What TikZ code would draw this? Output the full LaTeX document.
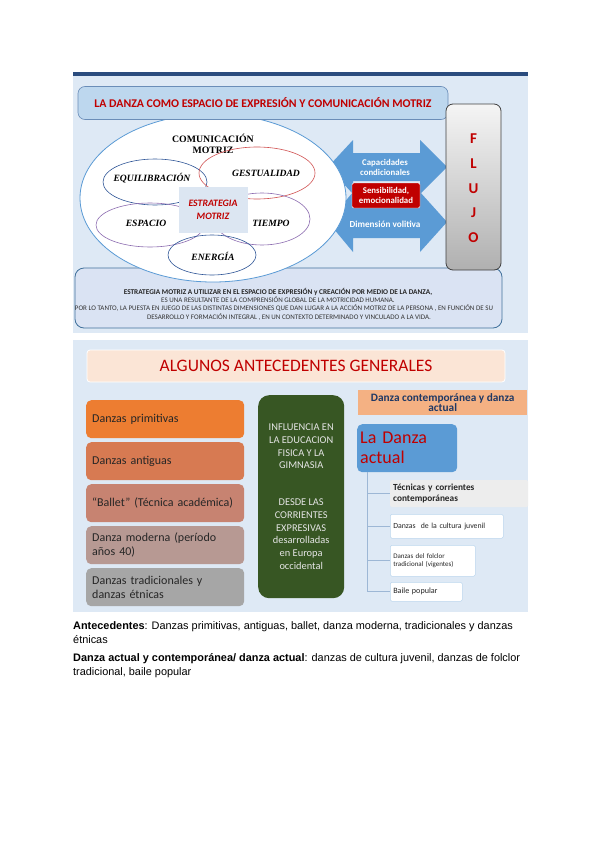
\documentclass[tikz,border=0pt]{standalone}
\usepackage{fontspec}
\setmainfont{Carlito}
\newfontfamily\tnr{Liberation Serif}
\newfontfamily\arialf{Liberation Sans}
\definecolor{panelbg}{HTML}{DEE9F5}
\definecolor{rulec}{HTML}{2B4C7E}
\definecolor{titlefill}{HTML}{BDD7EE}
\definecolor{titledraw}{HTML}{6A8DB8}
\definecolor{midblue}{HTML}{5B9BD5}
\definecolor{darkred}{HTML}{C00000}
\definecolor{dkblue}{HTML}{2F5597}
\definecolor{redell}{HTML}{D05050}
\definecolor{purp}{HTML}{8C6CB0}
\definecolor{sqfill}{HTML}{DCE6F2}
\definecolor{boxfill}{HTML}{DAE3F3}
\definecolor{boxdraw}{HTML}{41719C}
\definecolor{peach}{HTML}{FBE5D6}
\definecolor{orangeb}{HTML}{F4B183}
\definecolor{navy}{HTML}{1F3864}
\definecolor{ca}{HTML}{ED7D31}
\definecolor{cb}{HTML}{D77A52}
\definecolor{cc}{HTML}{C78371}
\definecolor{cd}{HTML}{B79993}
\definecolor{ce}{HTML}{A6A6A6}
\definecolor{greenb}{HTML}{375623}
\definecolor{txtd}{HTML}{262626}
\definecolor{treec}{HTML}{9DB7D5}
\definecolor{childdraw}{HTML}{BDD7EE}
\tikzset{
  ilbl/.style={font=\tnr\bfseries\itshape\fontsize{9.6}{10}\selectfont, inner sep=0pt},
  leftbox/.style={rounded corners=5pt, text width=146pt, inner xsep=6pt, minimum height=38pt, align=left, text=txtd, font=\fontsize{12}{14}\selectfont, anchor=north west},
  child/.style={rounded corners=1.5pt, anchor=north west, inner xsep=3pt, align=left, text=txtd},
  arrowtxt/.style={text=white, font=\bfseries\fontsize{8.8}{10}\selectfont, align=center, inner sep=0pt},
  flujo/.style={text=darkred, font=\bfseries\fontsize{15}{16}\selectfont, inner sep=0pt},
  smalltxt/.style={font=\fontsize{7}{7.5}\selectfont, text=black!80, inner sep=0pt},
  bottomtxt/.style={font=\arialf\fontsize{10.9}{12}\selectfont, anchor=base west, inner sep=0pt}
}
\begin{document}
\begin{tikzpicture}[x=1pt,y=-1pt]
\useasboundingbox (0,0) rectangle (600,848);
\fill[white] (0,0) rectangle (600,848);
% ===== top panel =====
\fill[panelbg] (73,72) rectangle (528,333);
\fill[rulec] (73,72) rectangle (528,76);
% bottom text box
\draw[boxdraw, fill=boxfill, line width=0.8pt, rounded corners=9pt] (75,268) rectangle (502,328);
% double arrows
\fill[midblue] (328,167) -- (353,140) -- (353,153) -- (420,153) -- (420,140) -- (447,167) -- (420,194) -- (420,181) -- (353,181) -- (353,194) -- cycle;
\fill[midblue] (328,222) -- (353,192) -- (353,206) -- (420,206) -- (420,192) -- (447,222) -- (420,252) -- (420,238) -- (353,238) -- (353,252) -- cycle;
% big ellipse
\draw[midblue, fill=white, line width=0.8pt] (213,198) ellipse [x radius=133pt, y radius=84pt];
% title box
\node[draw=titledraw, fill=titlefill, rounded corners=7pt, minimum width=370pt, minimum height=33pt, line width=0.6pt, text=darkred, font=\bfseries\fontsize{11.8}{13}\selectfont] (title) at (263,103) {LA DANZA COMO ESPACIO DE EXPRESIÓN Y COMUNICACIÓN MOTRIZ};
\node[font=\tnr\bfseries\fontsize{9.8}{11}\selectfont, align=center, inner sep=0pt] (com) at (213,144) {COMUNICACIÓN\\MOTRIZ};
% inner ellipses
\draw[dkblue, line width=0.6pt] (155,182) ellipse [x radius=52pt, y radius=23pt];
\draw[redell, line width=0.6pt] (257,173) ellipse [x radius=58pt, y radius=26pt];
\draw[purp, line width=0.6pt] (150,225) ellipse [x radius=54pt, y radius=22pt];
\draw[purp, line width=0.6pt] (262,219) ellipse [x radius=48pt, y radius=26pt];
\draw[dkblue, line width=0.6pt] (212,255) ellipse [x radius=44pt, y radius=20pt];
% centre square
\node[fill=sqfill, minimum width=69pt, minimum height=46pt, text=darkred, font=\bfseries\itshape\fontsize{9.8}{12.5}\selectfont, align=center] (estr) at (213,210) {ESTRATEGIA\\MOTRIZ};
\node[ilbl] (equi) at (152,178) {EQUILIBRACIÓN};
\node[ilbl] (gest) at (266,173) {GESTUALIDAD};
\node[ilbl] (esp) at (146,223) {ESPACIO};
\node[ilbl] (tiem) at (271,223) {TIEMPO};
\node[ilbl] (ener) at (213,256) {ENERGÍA};
% arrow labels
\node[arrowtxt] (cap) at (385,167) {Capacidades\\condicionales};
\node[fill=darkred, draw=white, line width=0.4pt, rounded corners=1.5pt, minimum width=68pt, minimum height=25pt, text=white, font=\bfseries\fontsize{8.8}{10}\selectfont, align=center, inner sep=0pt] (sens) at (386,195.5) {Sensibilidad,\\emocionalidad};
\node[arrowtxt, font=\bfseries\fontsize{9.2}{10}\selectfont] (dim) at (385,224) {Dimensión volitiva};
% FLUJO box
\node[draw=black!75, line width=0.8pt, rounded corners=7pt, top color=gray!8, bottom color=gray!62, minimum width=55pt, minimum height=166pt] (flujobox) at (473.5,187) {};
\node[flujo] (fF) at (473.5,139) {F};
\node[flujo] (fL) at (473.5,164) {L};
\node[flujo] (fU) at (473.5,189) {U};
\node[flujo] (fJ) at (473.5,213) {J};
\node[flujo] (fO) at (473.5,238) {O};
% bottom text
\node[font=\bfseries\fontsize{7.3}{7.5}\selectfont, text=black!85, inner sep=0pt] (l1) at (278,292) {ESTRATEGIA MOTRIZ A UTILIZAR EN EL ESPACIO DE EXPRESIÓN y CREACIÓN POR MEDIO DE LA DANZA,};
\node[smalltxt] (l2) at (278,300) {ES UNA RESULTANTE DE LA COMPRENSIÓN GLOBAL DE LA MOTRICIDAD HUMANA.};
\node[smalltxt] (l3) at (284,308.5) {POR LO TANTO, LA PUESTA EN JUEGO DE LAS DISTINTAS DIMENSIONES QUE DAN LUGAR A LA ACCIÓN MOTRIZ DE LA PERSONA , EN FUNCIÓN DE SU};
\node[smalltxt] (l4) at (289,317) {DESARROLLO Y FORMACIÓN INTEGRAL ,  EN UN CONTEXTO DETERMINADO Y VINCULADO A LA VIDA.};
% ===== bottom panel =====
\fill[panelbg] (73,340) rectangle (528,612);
\node[fill=peach, draw=white, line width=0.8pt, rounded corners=3pt, minimum width=418pt, minimum height=32pt, text=darkred, font=\fontsize{17.5}{19}\selectfont] (alg) at (296,366) {ALGUNOS ANTECEDENTES GENERALES};
\node[leftbox, fill=ca] (b1) at (86,400) {Danzas primitivas};
\node[leftbox, fill=cb] (b2) at (86,442) {Danzas antiguas};
\node[leftbox, fill=cc] (b3) at (86,484) {“Ballet” (Técnica académica)};
\node[leftbox, fill=cd] (b4) at (86,526) {Danza moderna (período\\años 40)};
\node[leftbox, fill=ce] (b5) at (86,568) {Danzas tradicionales y\\danzas étnicas};
\node[fill=greenb, rounded corners=11pt, minimum width=86pt, minimum height=203pt, anchor=north west, text=white!90!black, align=center, font=\fontsize{10.4}{12.7}\selectfont, inner sep=0pt] (green) at (258,395) {INFLUENCIA EN\\LA EDUCACION\\FISICA Y LA\\GIMNASIA\\[24pt]DESDE LAS\\CORRIENTES\\EXPRESIVAS\\desarrolladas\\en Europa\\occidental};
\node[fill=orangeb, minimum width=169pt, minimum height=25pt, anchor=north west, text=navy, align=center, font=\bfseries\fontsize{11.3}{10.5}\selectfont, inner sep=0pt] (contemp) at (358,390) {Danza contemporánea y danza\\actual};
\node[fill=midblue, rounded corners=5pt, minimum width=100pt, minimum height=48pt, anchor=north west, text=darkred, align=left, font=\fontsize{18}{20}\selectfont, inner xsep=3pt, text width=94pt] (actual) at (357,424) {La Danza\\actual};
\coordinate (trunk) at (367,472);
\node[child, fill=black!7, minimum width=138pt, minimum height=27pt, text width=132pt, font=\bfseries\fontsize{9.3}{11}\selectfont] (c1) at (390,480) {Técnicas y corrientes\\contemporáneas};
\node[child, fill=white, draw=childdraw, line width=0.5pt, minimum width=113pt, minimum height=24pt, text width=107pt, font=\fontsize{7.8}{9}\selectfont] (c2) at (390,514) {Danzas\ \ de la cultura juvenil};
\node[child, fill=white, draw=childdraw, line width=0.5pt, minimum width=85pt, minimum height=31pt, text width=79pt, font=\fontsize{7}{8.5}\selectfont] (c3) at (390,545) {Danzas del folclor\\tradicional (vigentes)};
\node[child, fill=white, draw=childdraw, line width=0.5pt, minimum width=72pt, minimum height=19pt, text width=66pt, font=\fontsize{8.1}{9}\selectfont] (c4) at (390,582) {Baile popular};
\draw[treec, line width=0.7pt] (trunk) |- (c1.west);
\draw[treec, line width=0.7pt] (trunk) |- (c2.west);
\draw[treec, line width=0.7pt] (trunk) |- (c3.west);
\draw[treec, line width=0.7pt] (trunk) |- (c4.west);
% ===== caption text =====
\node[bottomtxt] (t1) at (73,629) {\textbf{Antecedentes}: Danzas primitivas, antiguas, ballet, danza moderna, tradicionales y danzas};
\node[bottomtxt] (t2) at (73,643) {étnicas};
\node[bottomtxt] (t3) at (73,661) {\textbf{Danza actual y contemporánea/ danza actual}: danzas de cultura juvenil, danzas de folclor};
\node[bottomtxt] (t4) at (73,675) {tradicional, baile popular};
\end{tikzpicture}
\end{document}
